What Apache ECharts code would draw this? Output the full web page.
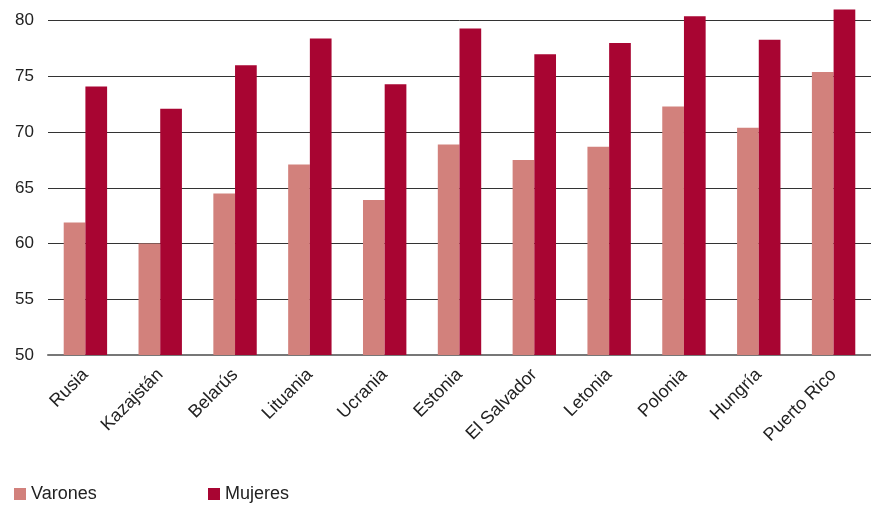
<!DOCTYPE html>
<html><head><meta charset="utf-8">
<script src="https://cdn.jsdelivr.net/npm/echarts@6/dist/echarts.min.js"></script>
<style>html,body{margin:0;padding:0;background:#fff}#c{width:871px;height:505px}</style>
</head><body><div id="c"></div>
<script>
const categories = ["Rusia","Kazajstán","Belarús","Lituania","Ucrania","Estonia","El Salvador","Letonia","Polonia","Hungría","Puerto Rico"];
const varones = [61.9, 60.0, 64.5, 67.1, 63.9, 68.9, 67.5, 68.7, 72.3, 70.4, 75.4];
const mujeres = [74.1, 72.1, 76.0, 78.4, 74.3, 79.3, 77.0, 78.0, 80.4, 78.3, 81.0];
const yTicks = [50, 55, 60, 65, 70, 75, 80];
const colV = '#D2817C', colM = '#A80532';
const font = '"Liberation Sans", Arial, sans-serif';
const chart = echarts.init(document.getElementById('c'), null, {renderer:'canvas'});
chart.setOption({
  animation:false,
  grid:{left:48, right:0, top:4, bottom:150},
  legend:[
    {data:['Varones'], left:14, top:485, padding:0, itemWidth:12, itemHeight:12, itemGap:6, icon:'rect',
     textStyle:{fontFamily:font, fontSize:18, color:'#222'}},
    {data:['Mujeres'], left:208, top:485, padding:0, itemWidth:12, itemHeight:12, itemGap:6, icon:'rect',
     textStyle:{fontFamily:font, fontSize:18, color:'#222'}}
  ],
  xAxis:{type:'category', data:categories,
    axisLine:{show:true, lineStyle:{color:'#777', width:2}},
    axisTick:{show:false},
    axisLabel:{rotate:45, interval:0, margin:17, fontFamily:font, fontSize:18, color:'#222'}},
  yAxis:{type:'value', min:yTicks[0], max:81.5, interval:5,
    axisLine:{show:false}, axisTick:{show:false},
    splitLine:{showMaxLine:false, lineStyle:{color:'#333', width:1}},
    axisLabel:{showMaxLabel:false, margin:14, fontFamily:font, fontSize:17, color:'#222'}},
  series:[
    {name:'Varones', type:'bar', data:varones, barWidth:'29%', barGap:'0%', itemStyle:{color:colV}},
    {name:'Mujeres', type:'bar', data:mujeres, barWidth:'29%', barGap:'0%', itemStyle:{color:colM}}
  ]
});
</script></body></html>
